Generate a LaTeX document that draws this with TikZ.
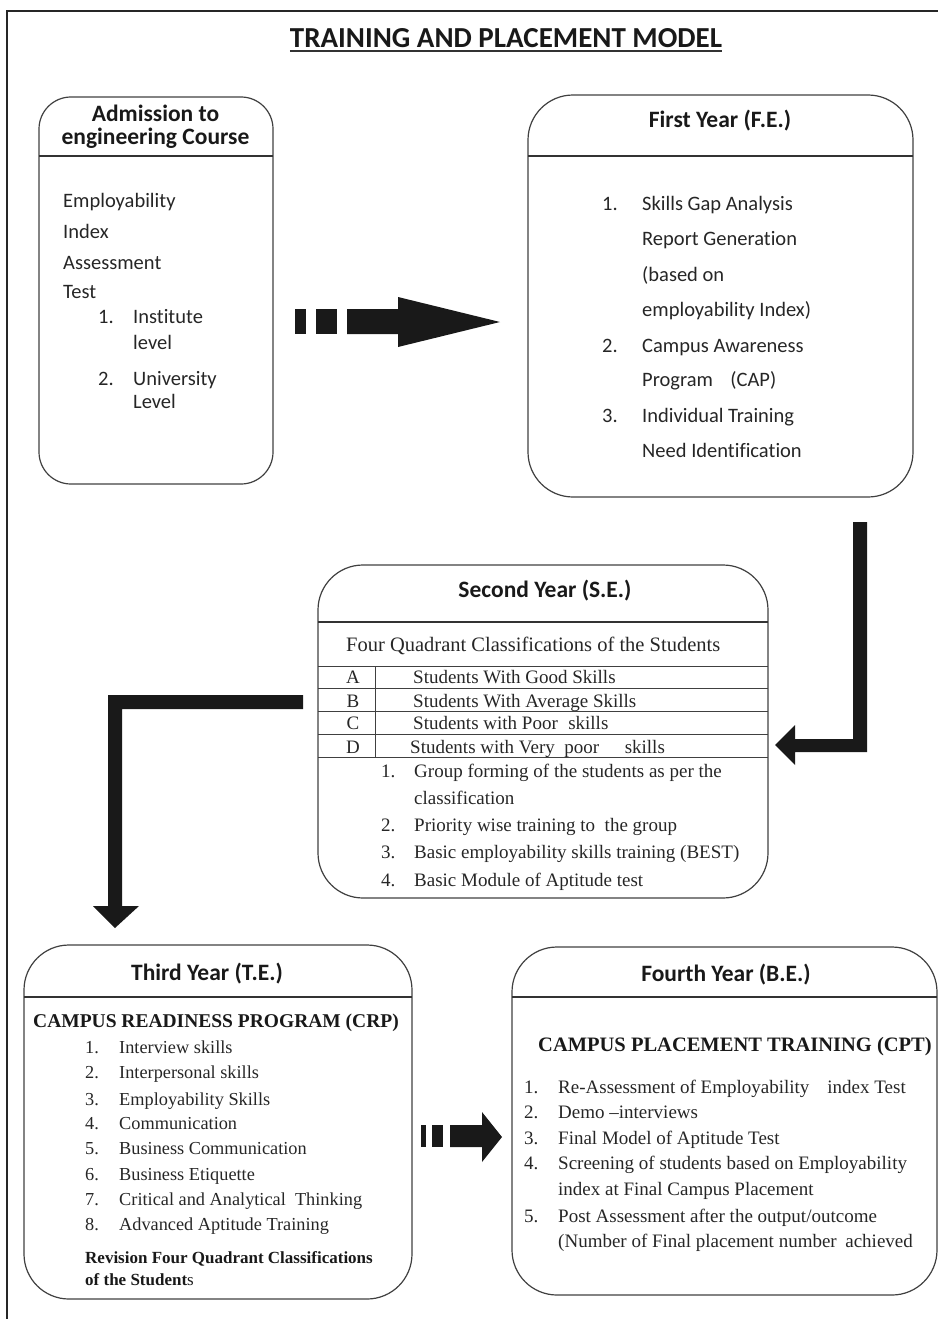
\documentclass[tikz,border=0pt]{standalone}
\usepackage{fontspec}
\setmainfont{Liberation Serif}
\newfontfamily\calfont[Ligatures=NoCommon]{Carlito}
\usetikzlibrary{calc}
\tikzset{
  box/.style={draw=black!75, line width=1.2pt, rounded corners=45pt, inner sep=0pt},
  sepline/.style={draw=black!80, line width=1.3pt},
  tabline/.style={draw=black!75, line width=0.9pt},
  blk/.style={fill=black!90, draw=none},
  hdr/.style={anchor=base, inner sep=0pt, text=black!90, font=\calfont\bfseries\fontsize{23.5}{28}\selectfont},
  cb/.style={anchor=base west, inner sep=0pt, text=black!85, font=\calfont\fontsize{20.5}{24}\selectfont},
  sb/.style={anchor=base west, inner sep=0pt, text=black!85, font=\fontsize{19}{22}\selectfont},
  sbc/.style={anchor=base, inner sep=0pt, text=black!85, font=\fontsize{19}{22}\selectfont},
  tb/.style={anchor=base west, inner sep=0pt, text=black!85, font=\fontsize{18.3}{22}\selectfont},
}
\begin{document}
\begin{tikzpicture}[x=1pt,y=-1pt]
\useasboundingbox (0,0) rectangle (938,1319);
% border
\draw[line width=1.5pt, black!85] (7,1319) -- (7,11) -- (938,11);
% title
\node[anchor=base, inner sep=0pt, text=black!90, font=\calfont\bfseries\fontsize{29}{34}\selectfont] (title) at (506,48) {TRAINING AND PLACEMENT MODEL};
\draw[line width=1.8pt, black!80] ($(title.base west)+(0,3)$) -- ($(title.base east)+(0,3)$);

% ---------- Box 1 ----------
\node[box, rounded corners=32pt, minimum width=234pt, minimum height=387pt] (b1) at (156,290.5) {};
\draw[sepline] (39,156) -- (273,156);
\node[hdr] (b1h1) at (155.5,122) {Admission to};
\node[hdr] (b1h2) at (155.5,145) {engineering Course};
\node[cb] (b1l1) at (63,207) {Employability};
\node[cb] (b1l2) at (63,238) {Index};
\node[cb] (b1l3) at (63,269) {Assessment};
\node[cb] (b1l4) at (63,298) {Test};
\node[cb] (b1n1) at (98,323) {1.};
\node[cb] (b1t1) at (133,323) {Institute};
\node[cb] (b1t1b) at (133,349) {level};
\node[cb] (b1n2) at (98,385) {2.};
\node[cb] (b1t2) at (133,385) {University};
\node[cb] (b1t2b) at (133,408) {Level};

% ---------- Box 2 ----------
\node[box, minimum width=385pt, minimum height=402pt] (b2) at (720.5,296) {};
\draw[sepline] (528,156) -- (913,156);
\node[hdr] (b2h) at (720,128) {First Year (F.E.)};
\node[cb] (b2n1) at (602,210) {1.};
\node[cb] (b2a) at (642,210) {Skills Gap Analysis};
\node[cb] (b2b) at (642,245) {Report Generation};
\node[cb] (b2c) at (642,281) {(based on};
\node[cb] (b2d) at (642,316) {employability Index)};
\node[cb] (b2n2) at (602,352) {2.};
\node[cb] (b2e) at (642,352) {Campus Awareness};
\node[cb] (b2f) at (642,386) {Program\hspace{0.85em}(CAP)};
\node[cb] (b2n3) at (602,422) {3.};
\node[cb] (b2g) at (642,422) {Individual Training};
\node[cb] (b2h2) at (642,457) {Need Identification};

% ---------- Box 3 ----------
\node[box, minimum width=450pt, minimum height=333pt] (b3) at (543,731.5) {};
\draw[sepline] (318,622) -- (768,622);
\node[hdr] (b3h) at (545,597) {Second Year (S.E.)};
\node[anchor=base west, inner sep=0pt, text=black!85, font=\fontsize{20.5}{24}\selectfont] (b3q) at (346,651) {Four Quadrant Classifications of the Students};
\foreach \yy in {666,688,711,734,757} \draw[tabline] (318,\yy) -- (768,\yy);
\draw[tabline] (375,666) -- (375,757);
\node[sbc] (b3A) at (353,683) {A};
\node[sbc] (b3B) at (353,707) {B};
\node[sbc] (b3C) at (353,729) {C};
\node[sbc] (b3D) at (353,753) {D};
\node[sb] (b3At) at (413,683) {Students With Good Skills};
\node[sb] (b3Bt) at (413,707) {Students With Average Skills};
\node[sb] (b3Ct) at (413,729) {Students with Poor\hspace{0.3em} skills};
\node[sb] (b3Dt) at (410,753) {Students with Very\hspace{0.25em} poor\hspace{1.1em} skills};
\node[sb] (b3n1) at (381,777) {1.};
\node[sb] (b3l1) at (414,777) {Group forming of the students as per the};
\node[sb] (b3l1b) at (414,804) {classification};
\node[sb] (b3n2) at (381,831) {2.};
\node[sb] (b3l2) at (414,831) {Priority wise training to\hspace{0.25em} the group};
\node[sb] (b3n3) at (381,858) {3.};
\node[sb] (b3l3) at (414,858) {Basic employability skills training (BEST)};
\node[sb] (b3n4) at (381,886) {4.};
\node[sb] (b3l4) at (414,886) {Basic Module of Aptitude test};

% ---------- Box 4 ----------
\node[box, minimum width=388pt, minimum height=354pt] (b4) at (218,1122) {};
\draw[sepline] (24,997) -- (412,997);
\node[hdr] (b4h) at (207,980) {Third Year (T.E.)};
\node[anchor=base west, inner sep=0pt, text=black!90, font=\bfseries\fontsize{19.5}{23}\selectfont] (b4crp) at (33,1027) {CAMPUS READINESS PROGRAM (CRP)};
\node[tb] (b4n1) at (85,1053) {1.}; \node[tb] (b4l1) at (119,1053) {Interview skills};
\node[tb] (b4n2) at (85,1078) {2.}; \node[tb] (b4l2) at (119,1078) {Interpersonal skills};
\node[tb] (b4n3) at (85,1105) {3.}; \node[tb] (b4l3) at (119,1105) {Employability Skills};
\node[tb] (b4n4) at (85,1129) {4.}; \node[tb] (b4l4) at (119,1129) {Communication};
\node[tb] (b4n5) at (85,1154) {5.}; \node[tb] (b4l5) at (119,1154) {Business Communication};
\node[tb] (b4n6) at (85,1180) {6.}; \node[tb] (b4l6) at (119,1180) {Business Etiquette};
\node[tb] (b4n7) at (85,1205) {7.}; \node[tb] (b4l7) at (119,1205) {Critical and Analytical\hspace{0.25em} Thinking};
\node[tb] (b4n8) at (85,1230) {8.}; \node[tb] (b4l8) at (119,1230) {Advanced Aptitude Training};
\node[anchor=base west, inner sep=0pt, text=black!90, font=\bfseries\fontsize{17}{20}\selectfont] (b4r1) at (85,1263) {Revision Four Quadrant Classifications};
\node[anchor=base west, inner sep=0pt, text=black!90, font=\bfseries\fontsize{17}{20}\selectfont] (b4r2) at (85,1285) {of the Student\textmd{s}};

% ---------- Box 5 ----------
\node[box, minimum width=425pt, minimum height=348pt] (b5) at (724.5,1121) {};
\draw[sepline] (512,997) -- (937,997);
\node[hdr] (b5h) at (726,981) {Fourth Year (B.E.)};
\node[anchor=base west, inner sep=0pt, text=black!90, font=\bfseries\fontsize{20.5}{24}\selectfont] (b5cpt) at (538,1051) {CAMPUS PLACEMENT TRAINING (CPT)};
\node[sb] (b5n1) at (524,1093) {1.}; \node[sb] (b5l1) at (558,1093) {Re-Assessment of Employability\hspace{0.7em} index Test};
\node[sb] (b5n2) at (524,1118) {2.}; \node[sb] (b5l2) at (558,1118) {Demo --interviews};
\node[sb] (b5n3) at (524,1144) {3.}; \node[sb] (b5l3) at (558,1144) {Final Model of Aptitude Test};
\node[sb] (b5n4) at (524,1169) {4.}; \node[sb] (b5l4) at (558,1169) {Screening of students based on Employability};
\node[sb] (b5l4b) at (558,1195) {index at Final Campus Placement};
\node[sb] (b5n5) at (524,1222) {5.}; \node[sb] (b5l5) at (558,1222) {Post Assessment after the output/outcome};
\node[sb] (b5l5b) at (558,1247) {(Number of Final placement number\hspace{0.2em} achieved};

% ---------- Arrows ----------
% Box1 -> Box2 (dashed block arrow)
\fill[blk] (295,309) rectangle (306,334);
\fill[blk] (316,309) rectangle (337,334);
\fill[blk] (347,309) -- (398,309) -- (398,297) -- (500,322) -- (398,347) -- (398,334) -- (347,334) -- cycle;
% Box2 -> Box3 (L-shaped)
\fill[blk] (853,522) -- (867,522) -- (867,752) -- (795,752) -- (795,765) -- (775,745) -- (795,725) -- (795,739) -- (853,739) -- cycle;
% Box3 -> Box4 (L-shaped)
\fill[blk] (303,695) -- (303,709) -- (122,709) -- (122,906) -- (139,906) -- (115,928) -- (93,906) -- (108,906) -- (108,695) -- cycle;
% Box4 -> Box5 (dashed block arrow)
\fill[blk] (421,1125) rectangle (426,1147);
\fill[blk] (432,1125) rectangle (443,1147);
\fill[blk] (450,1125) -- (482,1125) -- (482,1112) -- (502,1137) -- (482,1162) -- (482,1147) -- (450,1147) -- cycle;
\end{tikzpicture}
\end{document}
